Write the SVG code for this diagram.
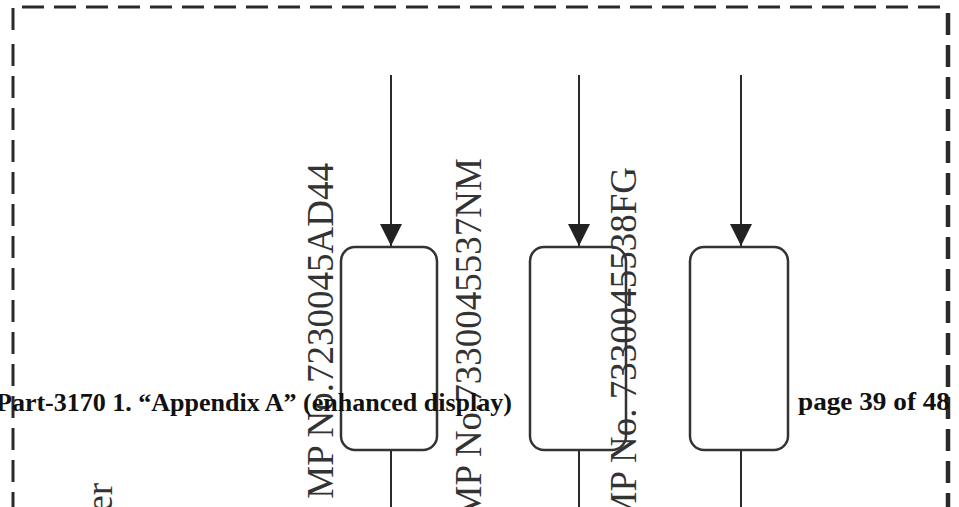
<svg xmlns="http://www.w3.org/2000/svg" width="959" height="507" viewBox="0 0 959 507">
<style>
.border{fill:none;stroke:#2a2a2a;stroke-dasharray:22 10}
.box{fill:none;stroke:#333;stroke-width:2.5}
.wire{stroke:#2a2a2a;stroke-width:2}
.lbl{font-family:"Liberation Serif","Times New Roman",serif;font-size:37px;fill:#333}
.ov{font-family:"Liberation Serif","Times New Roman",serif;font-weight:bold;font-size:26px;fill:#111}
</style>
<defs>
<marker id="ah" markerWidth="22" markerHeight="22" refX="22" refY="11" orient="auto" markerUnits="userSpaceOnUse">
<path d="M0,0 L22,11 L0,22 Z" fill="#222"/>
</marker>
</defs>
<rect width="959" height="507" fill="#fff"/>
<g id="frame">
<path class="border" d="M13,30 L13,7 L948,7" stroke-width="3"/>
<path class="border" d="M13,40 L13,507" stroke-width="3" stroke-dashoffset="-4"/>
<path class="border" d="M948,7 L948,507" stroke-width="4.5" stroke-dashoffset="-6"/>
</g>
<g id="connectors">
<line class="wire" x1="391" y1="75" x2="391" y2="246" marker-end="url(#ah)"/>
<line class="wire" x1="579" y1="75" x2="579" y2="246" marker-end="url(#ah)"/>
<line class="wire" x1="741" y1="75" x2="741" y2="246" marker-end="url(#ah)"/>
<line class="wire" x1="391" y1="450" x2="391" y2="507"/>
<line class="wire" x1="579" y1="450" x2="579" y2="507"/>
<line class="wire" x1="741" y1="450" x2="741" y2="507"/>
</g>
<g id="box1"><rect class="box" x="341" y="247" width="96" height="203" rx="14"/></g>
<g id="box2"><rect class="box" x="530" y="247" width="96" height="203" rx="14"/></g>
<g id="box3"><rect class="box" x="690" y="247" width="98" height="203" rx="14"/></g>
<g id="labels">
<text class="lbl" transform="translate(333,163) rotate(-90)" text-anchor="end">MP No.7230045AD44</text>
<text class="lbl" transform="translate(481,158) rotate(-90)" text-anchor="end">MP No.7330045537NM</text>
<text class="lbl" transform="translate(636,167) rotate(-90)" text-anchor="end">MP No. 7330045538FG</text>
<text class="lbl" transform="translate(112,483) rotate(-90)" text-anchor="end">er</text>
</g>
<g id="overlay">
<text class="ov" x="-4" y="411" textLength="516" lengthAdjust="spacingAndGlyphs">Part-3170 1. “Appendix A” (enhanced display)</text>
<text class="ov" x="798" y="410" textLength="152" lengthAdjust="spacingAndGlyphs">page 39 of 48</text>
</g>
</svg>
